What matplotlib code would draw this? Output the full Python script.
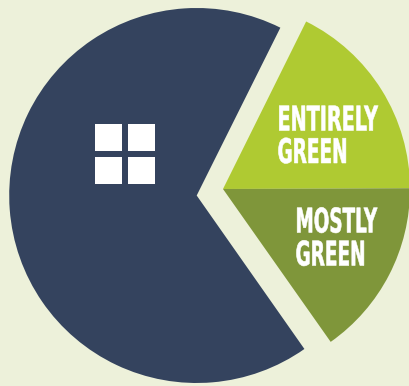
import matplotlib
matplotlib.use('Agg')
import matplotlib.pyplot as plt
from matplotlib.patches import Rectangle
from matplotlib.patheffects import AbstractPathEffect
from matplotlib.transforms import Affine2D

# share of buildings in each group, in percent
navy_share = [67.1]
green_shares = [17.6, 15.3]
green_colors = ['#afca32', '#7f963a']
green_labels = ['ENTIRELY\nGREEN', 'MOSTLY\nGREEN']

bg_color = '#edf1da'
navy_color = '#34435e'


# stretch the glyphs tall and narrow and thicken them, no installed font has this shape
class Condense(AbstractPathEffect):
    def __init__(self, sx, sy, stroke):
        super().__init__()
        self.sx = sx
        self.sy = sy
        self.stroke = stroke

    def draw_path(self, renderer, gc, tpath, affine, rgbFace=None):
        gc0 = renderer.new_gc()
        gc0.copy_properties(gc)
        gc0.set_linewidth(self.stroke)
        gc0.set_foreground(rgbFace)
        renderer.draw_path(gc0, tpath, Affine2D().scale(self.sx, self.sy) + affine, rgbFace)
        gc0.restore()


fig = plt.figure(figsize=(4.10, 3.86), dpi=100, facecolor=bg_color)
ax = fig.add_axes([0, 0, 1, 1])

# big slice and the two green ones, pulled apart
ax.pie([s/100 for s in navy_share], normalize=False, colors=[navy_color],
       startangle=63.5, radius=187.5, center=(196.7, 190.5),
       wedgeprops={'linewidth': 0})
ax.pie([s/100 for s in green_shares], normalize=False, colors=green_colors,
       startangle=63.6, counterclock=False, radius=187, center=(223, 197),
       wedgeprops={'linewidth': 0})

ax.set_xlim(0, 410)
ax.set_ylim(0, 386)
ax.set_aspect('auto')
ax.axis('off')

# window icon
for x0 in [95.5, 128.5]:
    for y0 in [202, 235.5]:
        ax.add_patch(Rectangle((x0, y0), 27, 27, color='white', lw=0))

# labels, one text per line so each one can be placed on its baseline
line_pos = [[(277.5, 255.5, 0.79), (277.5, 223, 0.76)],
            [(295.5, 153.5, 0.755), (295.5, 120.5, 0.76)]]
for label, pos in zip(green_labels, line_pos):
    for line, (x, y, sx) in zip(label.split('\n'), pos):
        t = ax.text(x, y, line, color='white', fontsize=17.5, fontweight='bold',
                    family='DejaVu Sans', ha='left', va='baseline')
        t.set_path_effects([Condense(sx, 1.4, 0.4)])

fig.savefig('out.png', dpi=100, facecolor=bg_color)
